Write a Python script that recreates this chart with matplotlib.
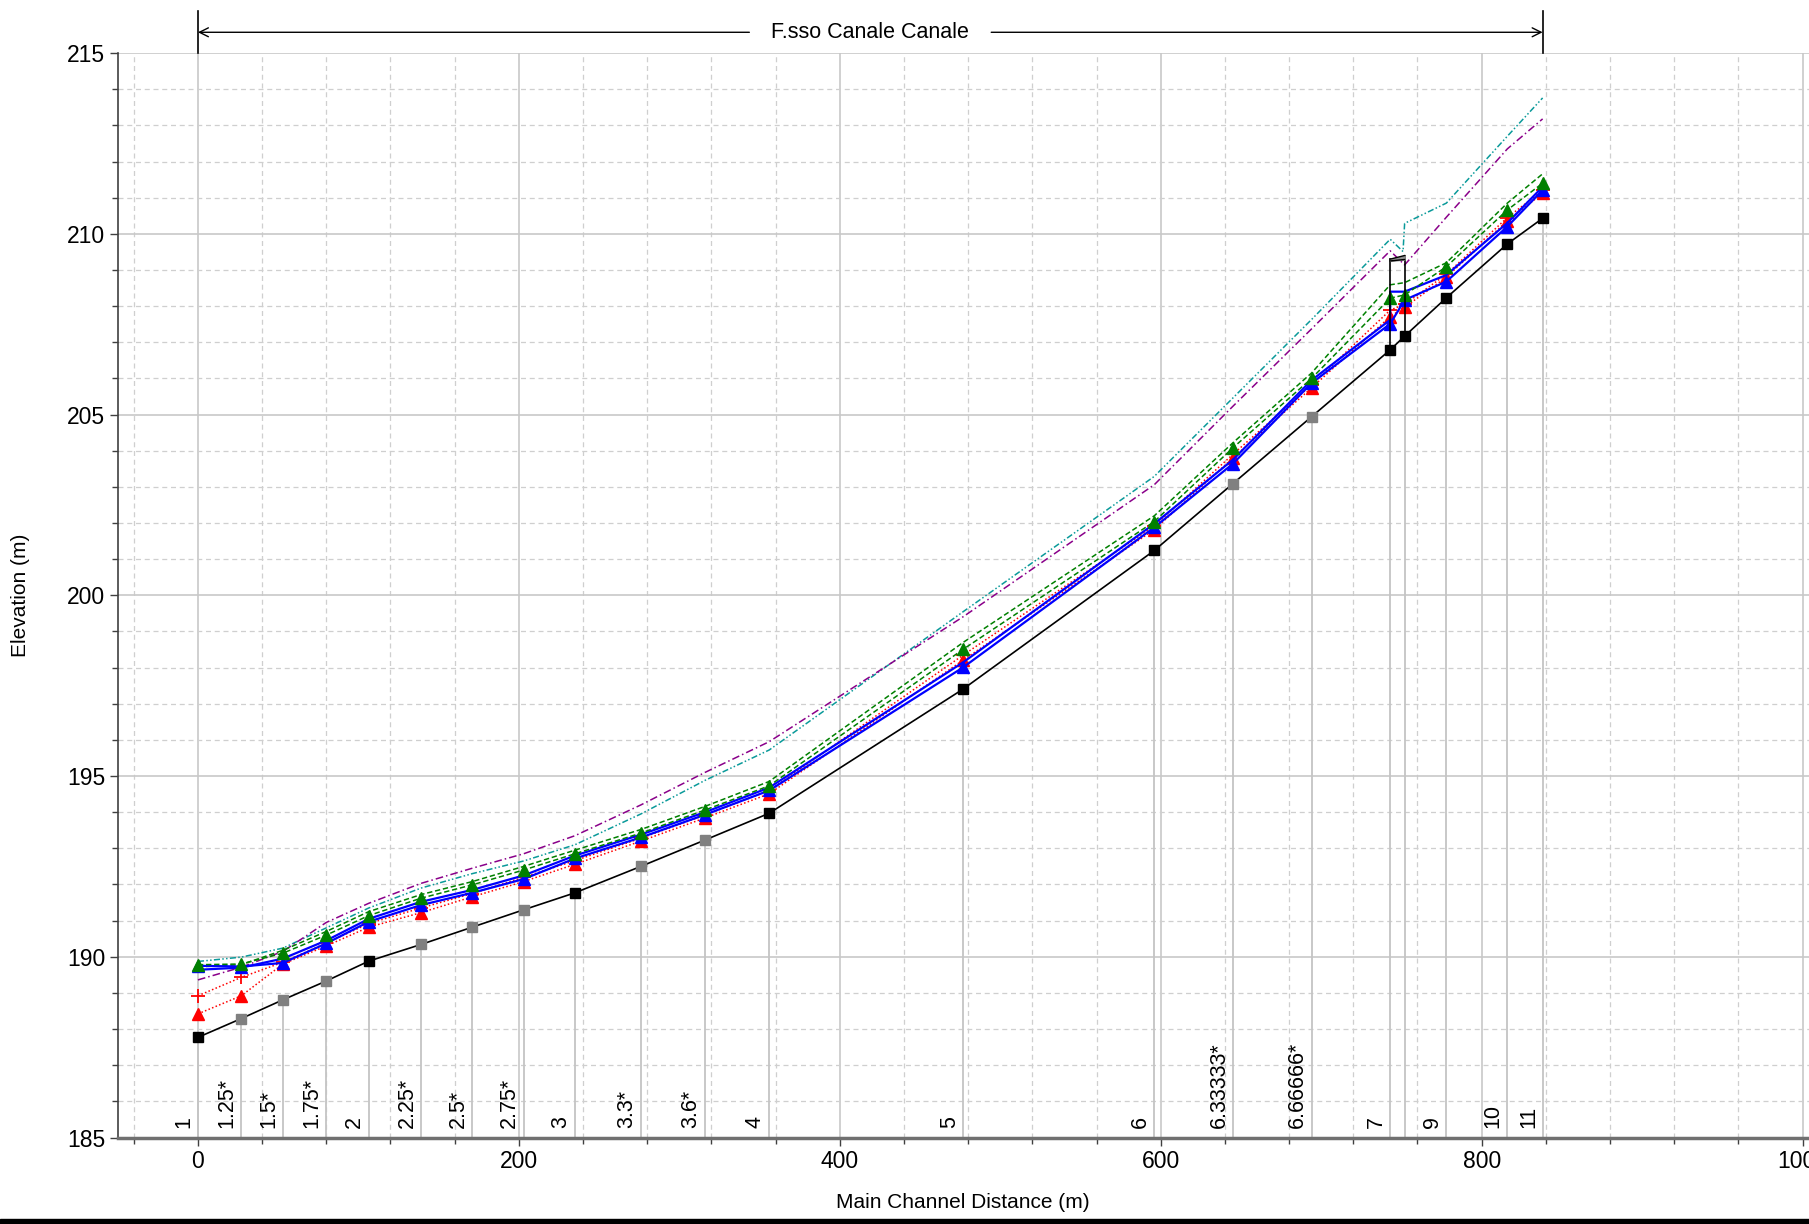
import matplotlib

matplotlib.use("Agg")
import matplotlib.pyplot as plt
from matplotlib.patches import Rectangle
from matplotlib.ticker import MultipleLocator

plt.rcParams["font.family"] = ["Liberation Sans", "DejaVu Sans"]

# river stations along the main channel (m)
STATION_X = [0, 27, 53, 80, 106.5, 139, 171, 203, 235, 276, 316, 356,
             477, 596, 645, 694, 743, 752, 778, 816, 838]
STATION_LABELS = ["1", "1.25*", "1.5*", "1.75*", "2", "2.25*", "2.5*", "2.75*",
                  "3", "3.3*", "3.6*", "4", "5", "6", "6.33333*", "6.66666*",
                  "7", "", "9", "10", "11"]

GROUND = [187.77, 188.29, 188.81, 189.33, 189.88, 190.34, 190.82, 191.30,
          191.77, 192.50, 193.23, 193.97, 197.41, 201.24, 203.09, 204.94,
          206.79, 207.17, 208.23, 209.72, 210.43]
WS_A = [189.75, 189.73, 189.83, 190.37, 190.97, 191.43, 191.77, 192.15,
        192.72, 193.30, 193.93, 194.60, 198.01, 201.88, 203.64, 205.87,
        207.51, 208.17, 208.68, 210.20, 211.21]
CRIT_A = [188.42, 188.92, 189.80, 190.30, 190.82, 191.22, 191.66, 192.08,
          192.56, 193.20, 193.84, 194.51, 198.21, 201.82, 203.80, 205.74,
          207.71, 207.97, 208.80, 210.36, 211.12]
CRIT_B = [188.92, 189.43, 189.85, 190.38, 190.92, 191.35, 191.75, 192.20,
          192.66, 193.28, 193.92, 194.60, 198.35, 201.92, 203.90, 205.82,
          207.89, 208.05, 208.88, 210.45, 211.20]
EG_A = [189.78, 189.80, 190.10, 190.60, 191.14, 191.62, 191.99, 192.40,
        192.85, 193.42, 194.06, 194.73, 198.51, 202.04, 204.08, 206.00,
        208.22, 208.31, 209.09, 210.66, 211.40]
EG_B = [189.72, 189.78, 190.18, 190.70, 191.25, 191.72, 192.08, 192.50,
        192.95, 193.52, 194.16, 194.85, 198.70, 202.20, 204.22, 206.15,
        208.59, 208.65, 209.20, 210.85, 211.66]
LOB = [189.36, 189.71, 190.15, 190.95, 191.48, 192.03, 192.45, 192.85,
       193.35, 194.20, 195.10, 195.95, 199.41, 203.06, 205.23, 207.37,
       209.53, 209.14, 210.46, 212.35, 213.18]

WS_B_X = [0, 27, 53, 80, 106.5, 139, 171, 203, 235, 276, 316, 356,
          477, 596, 645, 694, 743, 743, 752, 778, 816, 838]
WS_B = [189.64, 189.70, 189.95, 190.45, 191.05, 191.52, 191.85, 192.25,
        192.80, 193.38, 194.00, 194.68, 198.15, 201.98, 203.75, 205.95,
        207.62, 208.40, 208.40, 208.86, 210.30, 211.30]

ROB_X = [0, 27, 53, 80, 106.5, 139, 171, 203, 235, 276, 316, 356,
         477, 596, 645, 694, 743, 751, 752, 778, 816, 838]
ROB = [189.87, 189.99, 190.24, 190.80, 191.35, 191.90, 192.30, 192.65,
       193.10, 193.95, 194.88, 195.72, 199.55, 203.29, 205.46, 207.63,
       209.85, 209.51, 210.29, 210.85, 212.70, 213.76]

BRIDGE_X = [743, 752]
BRIDGE_HIGH = [209.30, 209.40]
BRIDGE_LOW = [209.25, 209.29]

REACH_NAME = "F.sso Canale Canale"

W, H = 1809, 1224
fig = plt.figure(figsize=(W / 100, H / 100), dpi=100)
ax_left, ax_top, ax_bottom = 117.7, 53.1, 1137.5
ax = fig.add_axes([ax_left / W, 1 - ax_bottom / H, 1 - ax_left / W,
                   (ax_bottom - ax_top) / H])
ax.set_xlim(-50, 1004)
ax.set_ylim(185, 215)

ax.xaxis.set_major_locator(MultipleLocator(200))
ax.xaxis.set_minor_locator(MultipleLocator(40))
ax.yaxis.set_major_locator(MultipleLocator(5))
ax.yaxis.set_minor_locator(MultipleLocator(1))
ax.grid(which="major", color="#c8c8c8", linewidth=1.2, linestyle="-", zorder=0)
ax.grid(which="minor", color="#cfcfcf", linewidth=0.9, linestyle=(0, (4, 3)), zorder=0)
ax.set_axisbelow(True)
ax.tick_params(which="both", direction="out", colors="#404040", labelcolor="black",
               labelsize=16.5)
ax.tick_params(which="major", length=6, width=1, pad=3)
ax.tick_params(which="minor", length=4, width=1)
for side in ("top", "right"):
    ax.spines[side].set_visible(False)
ax.spines["left"].set_color("#404040")
ax.spines["left"].set_linewidth(1.2)
ax.spines["bottom"].set_color("#707070")
ax.spines["bottom"].set_linewidth(2.5)

# station lines and labels
for x, g, lab in zip(STATION_X, GROUND, STATION_LABELS):
    ax.plot([x, x], [185, g], color="#c4c4c4", linewidth=1.3, zorder=1)
    if lab:
        ax.annotate(lab, (x, 185), xytext=(-2.5, 6.5), textcoords="offset points",
                    rotation=90, ha="right", va="bottom", fontsize=15.5)

# bank lines
ax.plot(ROB_X, ROB, color="#0a9a9a", linewidth=1.1,
        linestyle=(0, (4, 1.5, 1, 1.5, 1, 1.5)), zorder=3)
ax.plot(STATION_X, LOB, color="#8a008a", linewidth=1.1,
        linestyle=(0, (5, 2, 1, 2)), zorder=3)

# energy grade lines
ax.plot(STATION_X, EG_B, color="#008000", linewidth=1.1, linestyle=(0, (3.5, 1.8)), zorder=4)
ax.plot(STATION_X, EG_A, color="#008000", linewidth=1.1, linestyle=(0, (3.5, 1.8)),
        marker="^", markersize=8, zorder=6)

# critical depth
ax.plot(STATION_X, CRIT_B, color="#ff0000", linewidth=1.1, linestyle=(0, (1, 1.5)),
        marker="+", markersize=10, markeredgewidth=1.3, zorder=5)
ax.plot(STATION_X, CRIT_A, color="#ff0000", linewidth=1.1, linestyle=(0, (1, 1.5)),
        marker="^", markersize=8, zorder=5)

# water surface
ax.plot(WS_B_X, WS_B, color="#0000ff", linewidth=1.6, zorder=5)
ax.plot(STATION_X, WS_A, color="#0000ff", linewidth=1.6, marker="^", markersize=8, zorder=5)

# ground
ax.plot(STATION_X, GROUND, color="black", linewidth=1.2, zorder=6)
real = [i for i, lab in enumerate(STATION_LABELS) if "*" not in lab]
interp = [i for i, lab in enumerate(STATION_LABELS) if "*" in lab]
ax.plot([STATION_X[i] for i in real], [GROUND[i] for i in real], linestyle="none",
        marker="s", markersize=7, color="black", zorder=7)
ax.plot([STATION_X[i] for i in interp], [GROUND[i] for i in interp], linestyle="none",
        marker="s", markersize=7, color="#808080", zorder=7)

# bridge deck
for x, g, top in zip(BRIDGE_X, [GROUND[16], GROUND[17]], BRIDGE_HIGH):
    ax.plot([x, x], [g, top], color="black", linewidth=1.2, zorder=7)
ax.fill_between(BRIDGE_X, BRIDGE_LOW, BRIDGE_HIGH, color="#909090", zorder=7)
ax.plot(BRIDGE_X, BRIDGE_HIGH, color="black", linewidth=1.0, zorder=8)
ax.plot(BRIDGE_X, BRIDGE_LOW, color="black", linewidth=1.0, zorder=8)

# reach annotation above the axes
trans = ax.get_xaxis_transform()
reach_start, reach_end = STATION_X[0], STATION_X[-1]
arrow_y = 1.0192
for x in (reach_start, reach_end):
    ax.plot([x, x], [1.0, 1.0384], transform=trans, color="black", linewidth=1.2,
            clip_on=False)
label = ax.text((reach_start + reach_end) / 2, arrow_y, REACH_NAME, transform=trans,
                ha="center", va="center", fontsize=15.5)
fig.canvas.draw()
bb = label.get_window_extent()
inv = ax.transData.inverted()
gap_left = inv.transform((bb.x0 - 22, 0))[0]
gap_right = inv.transform((bb.x1 + 22, 0))[0]
arrow = dict(arrowstyle="->", color="black", linewidth=1.0, shrinkA=0, shrinkB=0,
             mutation_scale=16)
ax.annotate("", xy=(reach_start, arrow_y), xytext=(gap_left, arrow_y), xycoords=trans,
            textcoords=trans, arrowprops=arrow, annotation_clip=False)
ax.annotate("", xy=(reach_end, arrow_y), xytext=(gap_right, arrow_y), xycoords=trans,
            textcoords=trans, arrowprops=arrow, annotation_clip=False)

fig.text(21 / W, 1 - 595 / H, "Elevation (m)", rotation=90, ha="center", va="center",
         fontsize=15)
fig.text(963 / W, 1 - 1203 / H, "Main Channel Distance (m)", ha="center", va="center",
         fontsize=15)
fig.patches.append(Rectangle((0, 0), 1, 5 / H, transform=fig.transFigure,
                             color="black", zorder=10))

fig.savefig("out.png", dpi=100)
